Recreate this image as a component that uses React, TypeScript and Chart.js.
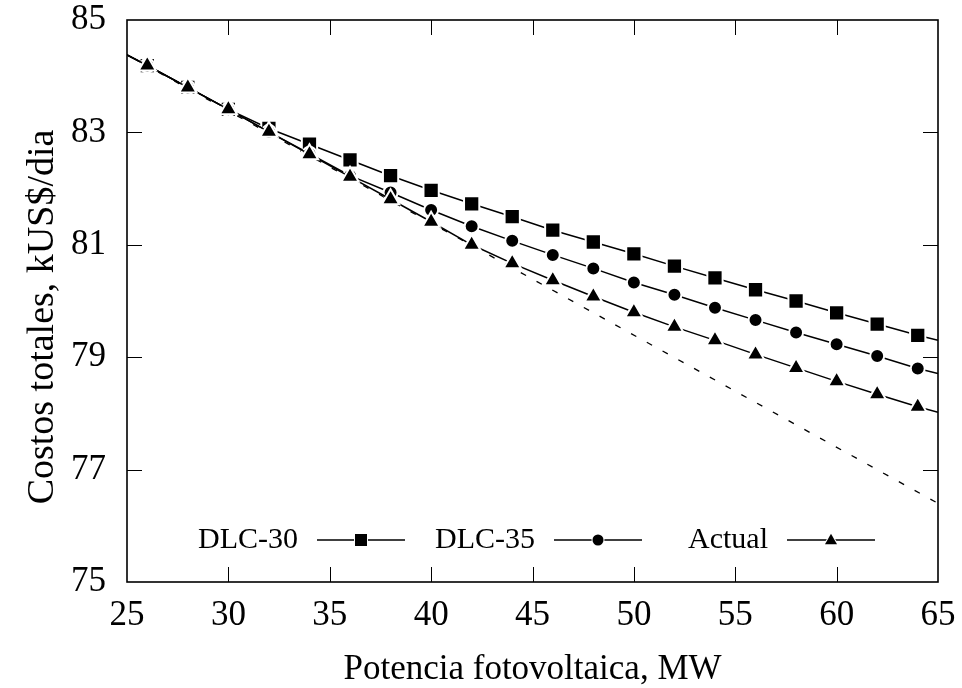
import React, { useEffect, useRef } from "react";
import { Chart, registerables } from "chart.js";

Chart.register(...registerables);

// ---- data ----
const potenciaMW = [25, 26, 28, 30, 32, 34, 36, 38, 40, 42, 44, 46, 48, 50, 52, 54, 56, 58, 60, 62, 64, 65];
const dlc30 = [84.38, 84.19, 83.8, 83.41, 83.07, 82.79, 82.51, 82.23, 81.97, 81.73, 81.5, 81.26, 81.05, 80.84, 80.62, 80.41, 80.2, 80.0, 79.79, 79.59, 79.39, 79.3];
const dlc35 = [84.38, 84.19, 83.8, 83.41, 83.01, 82.62, 82.23, 81.93, 81.62, 81.33, 81.07, 80.82, 80.58, 80.33, 80.11, 79.88, 79.66, 79.44, 79.23, 79.02, 78.8, 78.71];
const actual = [84.38, 84.19, 83.8, 83.41, 83.01, 82.61, 82.21, 81.81, 81.41, 81.0, 80.67, 80.37, 80.08, 79.8, 79.54, 79.3, 79.05, 78.81, 78.57, 78.34, 78.12, 78.02];
const tangenteX = [25, 65];
const tangenteY = [84.38, 76.4];

const xTicks = [25, 30, 35, 40, 45, 50, 55, 60, 65];
const yTicks = [75, 77, 79, 81, 83, 85];

const seriesNames = ["DLC-30", "DLC-35", "Actual"];
const seriesStyles = ["rect", "circle", "triangle"];
const yTitle = "Costos totales, kUS$/dia";

const FONT = "'Liberation Serif', 'Times New Roman', serif";

const toPoints = (xs: number[], ys: number[]) => xs.map((x, i) => ({ x, y: ys[i] }));

const markerRadius = (r: number) => (ctx: any) => {
  const n = ctx.dataset.data.length;
  return ctx.dataIndex === 0 || ctx.dataIndex === n - 1 ? 0 : r;
};

function drawMarker(ctx: CanvasRenderingContext2D, style: string, x: number, y: number, size: number) {
  ctx.save();
  ctx.fillStyle = "#000";
  ctx.strokeStyle = "#fff";
  ctx.lineWidth = 2;
  ctx.beginPath();
  if (style === "rect") {
    ctx.rect(x - size / 2, y - size / 2, size, size);
  } else if (style === "circle") {
    ctx.arc(x, y, size / 2, 0, Math.PI * 2);
  } else {
    const h = size * 0.87;
    ctx.moveTo(x, y - h * 0.6);
    ctx.lineTo(x + size / 2, y + h * 0.4);
    ctx.lineTo(x - size / 2, y + h * 0.4);
    ctx.closePath();
  }
  ctx.stroke();
  ctx.fill();
  ctx.restore();
}

const framePlugin = {
  id: "frameTicks",
  afterDatasetsDraw(chart: any) {
    const { ctx, chartArea, scales } = chart;
    const { left, right, top, bottom } = chartArea;
    ctx.save();
    ctx.strokeStyle = "#000";
    ctx.lineWidth = 1;
    const tl = 15;
    xTicks.forEach((v) => {
      if (v === 25 || v === 65) return;
      const px = Math.round(scales.x.getPixelForValue(v)) + 0.5;
      ctx.beginPath();
      ctx.moveTo(px, bottom);
      ctx.lineTo(px, bottom - tl);
      ctx.moveTo(px, top);
      ctx.lineTo(px, top + tl);
      ctx.stroke();
    });
    yTicks.forEach((v) => {
      if (v === 75 || v === 85) return;
      const py = Math.round(scales.y.getPixelForValue(v)) + 0.5;
      ctx.beginPath();
      ctx.moveTo(left, py);
      ctx.lineTo(left + tl, py);
      ctx.moveTo(right, py);
      ctx.lineTo(right - tl, py);
      ctx.stroke();
    });
    ctx.lineWidth = 1.6;
    ctx.strokeRect(left, top, right - left, bottom - top);

    // y axis title
    ctx.save();
    ctx.translate(43, (top + bottom) / 2 + 16);
    ctx.rotate(-Math.PI / 2);
    ctx.font = `38px ${FONT}`;
    ctx.fillStyle = "#000";
    ctx.textAlign = "center";
    ctx.textBaseline = "middle";
    ctx.fillText(yTitle, 0, 0);
    ctx.restore();

    // legend
    const ly = bottom - 42;
    const textRights = [171, 408, 641];
    const lineStarts = [190, 427, 660];
    const lineLen = 88;
    const sizes = [12, 11, 12];
    ctx.font = `30px ${FONT}`;
    ctx.fillStyle = "#000";
    ctx.textAlign = "right";
    ctx.textBaseline = "middle";
    seriesNames.forEach((name, i) => {
      ctx.fillText(name, left + textRights[i], ly);
      const x0 = left + lineStarts[i];
      ctx.beginPath();
      ctx.lineWidth = 1.5;
      ctx.strokeStyle = "#000";
      ctx.moveTo(x0, ly);
      ctx.lineTo(x0 + lineLen, ly);
      ctx.stroke();
      drawMarker(ctx, seriesStyles[i], x0 + lineLen / 2, ly, sizes[i]);
    });
    ctx.restore();
  },
};

export default function App() {
  const ref = useRef<HTMLCanvasElement | null>(null);

  useEffect(() => {
    if (!ref.current) return;
    const common = {
      borderColor: "#000",
      borderWidth: 1.5,
      pointBackgroundColor: "#000",
      pointBorderColor: "#fff",
      pointBorderWidth: 2,
      tension: 0,
      fill: false,
    };
    const chart = new Chart(ref.current, {
      type: "line",
      data: {
        datasets: [
          {
            ...common,
            label: "Actual",
            data: toPoints(potenciaMW, actual),
            pointStyle: "triangle",
            pointRadius: markerRadius(10),
          },
          {
            ...common,
            label: "DLC-35",
            data: toPoints(potenciaMW, dlc35),
            pointStyle: "circle",
            pointRadius: markerRadius(7),
          },
          {
            ...common,
            label: "DLC-30",
            data: toPoints(potenciaMW, dlc30),
            pointStyle: "rect",
            pointRadius: markerRadius(10.8),
          },
          {
            label: "tangente",
            data: toPoints(tangenteX, tangenteY),
            borderColor: "#000",
            borderWidth: 1.3,
            borderDash: [6, 12],
            pointRadius: 0,
            fill: false,
          },
        ],
      },
      options: {
        responsive: false,
        animation: false,
        devicePixelRatio: 1,
        layout: { padding: { top: 20, right: 24, left: 0, bottom: 0 } },
        plugins: { legend: { display: false }, tooltip: { enabled: false } },
        scales: {
          x: {
            type: "linear",
            min: 25,
            max: 65,
            afterBuildTicks: (scale: any) => {
              scale.ticks = xTicks.map((v) => ({ value: v }));
            },
            afterFit: (scale: any) => {
              scale.height = 106;
              scale.paddingLeft = 0;
              scale.paddingRight = 0;
              scale.paddingTop = 0;
              scale.paddingBottom = 0;
            },
            grid: { display: false, drawTicks: false },
            border: { display: false },
            ticks: {
              color: "#000",
              padding: 16.5,
              maxRotation: 0,
              autoSkip: false,
              font: { family: FONT, size: 35, lineHeight: 1 },
            },
            title: {
              display: true,
              text: "Potencia fotovoltaica, MW",
              color: "#000",
              font: { family: FONT, size: 35, lineHeight: 1 },
              padding: { top: 0, bottom: 0.5 },
            },
          },
          y: {
            type: "linear",
            min: 75,
            max: 85,
            afterBuildTicks: (scale: any) => {
              scale.ticks = yTicks.map((v) => ({ value: v }));
            },
            afterFit: (scale: any) => {
              scale.width = 127;
              scale.paddingLeft = 0;
              scale.paddingRight = 0;
              scale.paddingTop = 0;
              scale.paddingBottom = 0;
            },
            grid: { display: false, drawTicks: false },
            border: { display: false },
            ticks: {
              color: "#000",
              padding: 21,
              autoSkip: false,
              font: { family: FONT, size: 35, lineHeight: 1 },
            },
            title: { display: false },
          },
        },
      },
      plugins: [framePlugin],
    } as any);
    return () => chart.destroy();
  }, []);

  return (
    <div style={{ position: "fixed", left: 0, top: 0, width: 962, height: 688, background: "#fff" }}>
      <canvas ref={ref} width={962} height={688} style={{ display: "block" }} />
    </div>
  );
}
